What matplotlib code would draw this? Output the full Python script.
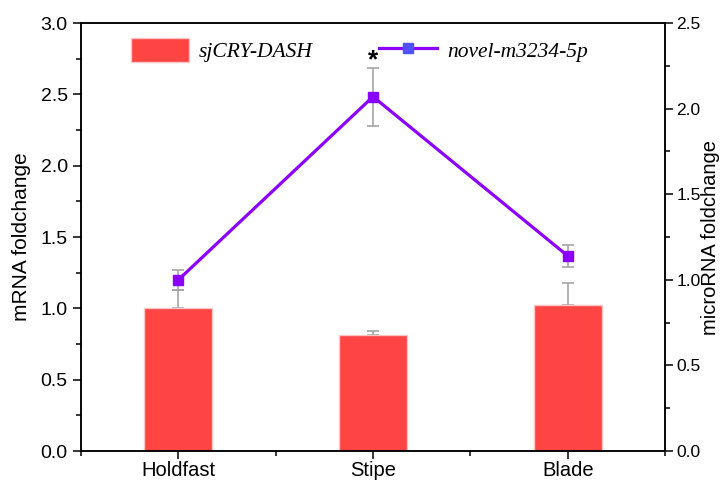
import matplotlib
matplotlib.use('Agg')
import matplotlib.pyplot as plt
from matplotlib.ticker import MultipleLocator, FormatStrFormatter
from matplotlib.lines import Line2D
from matplotlib.patches import Patch

tissues = ['Holdfast', 'Stipe', 'Blade']
mrna_fc = [1.00, 0.81, 1.02]
mrna_err = [0.13, 0.03, 0.155]
mirna_fc = [1.00, 2.07, 1.14]
mirna_err = [0.06, 0.17, 0.066]
sig_marks = ['', '*', '']

bar_col = '#FF4444'
line_col = '#8B00FF'
err_col = '#A6A6A6'

plt.rcParams['font.family'] = ['Liberation Sans', 'DejaVu Sans']

fig = plt.figure(figsize=(7.22, 4.8), dpi=100)
ax = fig.add_axes([0.1122, 0.0604, 0.8089, 0.8916])
ax2 = ax.twinx()

x = list(range(len(tissues)))

# mRNA bars (left axis)
ax.bar(x, mrna_fc, width=0.35, color=bar_col, edgecolor='#FFC4C4', linewidth=1.0, zorder=2)
ax.errorbar(x, mrna_fc, yerr=[[0] * len(x), mrna_err], fmt='none', ecolor=err_col,
            elinewidth=1.2, capsize=4, capthick=1.2, zorder=1)

# microRNA line (right axis)
ax2.errorbar(x, mirna_fc, yerr=mirna_err, fmt='none', ecolor=err_col,
             elinewidth=1.2, capsize=4, capthick=1.2, zorder=1)
ax2.plot(x, mirna_fc, color=line_col, lw=2.3, marker='s', ms=6.5,
         mfc='#8A00FF', mec='#8A00FF', zorder=3)
for xi, v, e, s in zip(x, mirna_fc, mirna_err, sig_marks):
    if s:
        ax2.text(xi, v + e + 0.045, s, ha='center', va='center', fontsize=19,
                 fontweight='bold', color='black')

ax.set_xlim(-0.5, 2.5)
ax.set_ylim(0, 3.0)
ax2.set_ylim(0, 2.5)

ax.set_xticks(x)
ax.set_xticklabels(tissues, fontsize=14.5)
ax.xaxis.set_minor_locator(MultipleLocator(0.5))
ax.yaxis.set_major_locator(MultipleLocator(0.5))
ax.yaxis.set_minor_locator(MultipleLocator(0.25))
ax2.yaxis.set_major_locator(MultipleLocator(0.5))
ax2.yaxis.set_minor_locator(MultipleLocator(0.25))

for a in (ax, ax2):
    a.tick_params(which='major', direction='out', length=6, width=1.1, labelsize=14)
    a.tick_params(which='minor', direction='out', length=3.5, width=1.1)
    for sp in a.spines.values():
        sp.set_linewidth(1.1)
ax.tick_params(axis='x', which='major', pad=1, labelsize=14.5)
ax2.tick_params(axis='y', which='major', pad=2, labelsize=12.5)
ax.yaxis.set_major_formatter(FormatStrFormatter('%.1f'))
ax2.yaxis.set_major_formatter(FormatStrFormatter('%.1f'))

ax.set_ylabel('mRNA foldchange', fontsize=15)
ax2.set_ylabel('microRNA foldchange', fontsize=14.5)
ax.yaxis.set_label_coords(-0.086, 0.5)
ax2.yaxis.set_label_coords(1.061, 0.5)

handles = [Patch(facecolor=bar_col, edgecolor='#FFC4C4'),
           Line2D([], [], color=line_col, lw=2.3, marker='s', ms=6.5,
                  mfc='#5050FF', mec='#5050FF')]
ax2.legend(handles, ['sjCRY-DASH', 'novel-m3234-5p'], ncol=2, frameon=False,
           loc='upper left', bbox_to_anchor=(0.07, 0.985),
           prop={'family': 'Liberation Serif', 'style': 'italic', 'size': 15.5},
           handlelength=2.7, handleheight=1.3, handletextpad=0.45,
           columnspacing=3.1, borderaxespad=0)

fig.savefig('out.png', dpi=100)
